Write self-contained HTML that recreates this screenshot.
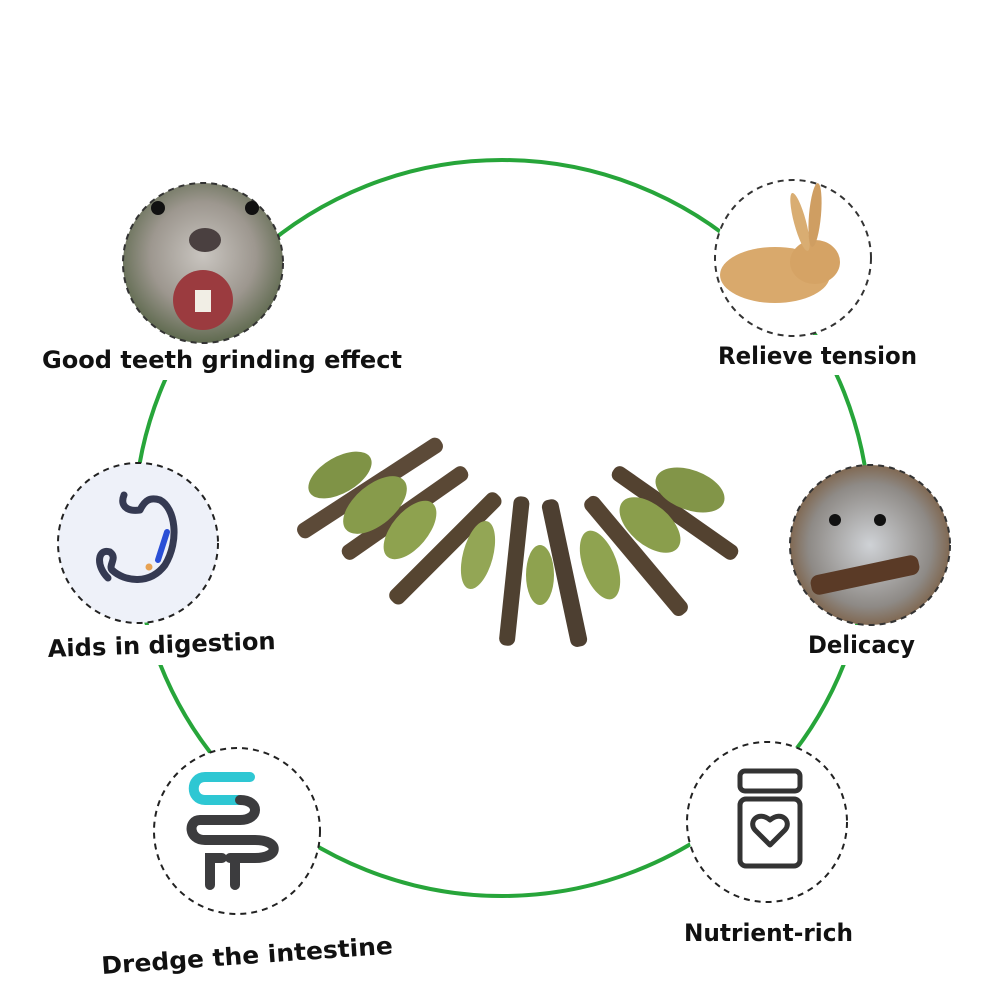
<!DOCTYPE html>
<html><head><meta charset="utf-8"><style>
html,body{margin:0;padding:0;background:#fff;}
svg{display:block}
text{font-family:"DejaVu Sans","Liberation Sans",sans-serif;font-weight:bold;fill:#111;}
</style></head><body>
<svg width="1000" height="1000" viewBox="0 0 1000 1000" xmlns="http://www.w3.org/2000/svg">
<defs>
<radialGradient id="g1" cx="50%" cy="45%" r="55%"><stop offset="0" stop-color="#c9c5c0"/><stop offset="0.6" stop-color="#9d978f"/><stop offset="1" stop-color="#5f6a4f"/></radialGradient>
<radialGradient id="g2" cx="50%" cy="50%" r="55%"><stop offset="0" stop-color="#cfd2d6"/><stop offset="0.7" stop-color="#8e8a86"/><stop offset="1" stop-color="#7a5a3c"/></radialGradient>
</defs>
<circle cx="502" cy="528" r="368" fill="none" stroke="#27a53a" stroke-width="4"/>
<rect x="30" y="340" width="390" height="40" fill="#fff"/>
<rect x="700" y="335" width="240" height="40" fill="#fff"/>
<rect x="30" y="625" width="270" height="40" fill="#fff"/>
<rect x="780" y="625" width="150" height="40" fill="#fff"/>

<circle cx="203" cy="263" r="80" fill="url(#g1)" stroke="#333" stroke-width="2" stroke-dasharray="6 5"/>
<ellipse cx="203" cy="300" rx="30" ry="30" fill="#9b3b3f"/>
<rect x="195" y="290" width="16" height="22" fill="#f1eee5"/>
<ellipse cx="205" cy="240" rx="16" ry="12" fill="#4a4040"/>
<circle cx="158" cy="208" r="7" fill="#111"/><circle cx="252" cy="208" r="7" fill="#111"/>

<circle cx="793" cy="258" r="78" fill="#fff" stroke="#333" stroke-width="2" stroke-dasharray="6 5"/>
<ellipse cx="775" cy="275" rx="55" ry="28" fill="#d9a96c"/>
<ellipse cx="815" cy="262" rx="25" ry="22" fill="#d5a365"/>
<ellipse cx="800" cy="222" rx="6" ry="30" fill="#d9ad72" transform="rotate(-15 800 222)"/>
<ellipse cx="815" cy="215" rx="6" ry="32" fill="#cf9e62" transform="rotate(5 815 215)"/>

<circle cx="138" cy="543" r="80" fill="#eef1f9" stroke="#222" stroke-width="2" stroke-dasharray="6 5"/>
<path d="M124 495 C120 505,126 512,140 510 C145 500,150 497,160 500 C175 508,180 540,165 565 C150 585,125 582,112 570 C108 565,118 558,110 552 C98 548,95 565,108 578" fill="none" stroke="#353a52" stroke-width="7" stroke-linecap="round" stroke-linejoin="round"/>
<path d="M167 532 L158 560" stroke="#2a4fd6" stroke-width="6" stroke-linecap="round"/>
<circle cx="149" cy="567" r="3.5" fill="#e7a253"/>

<circle cx="870" cy="545" r="80" fill="url(#g2)" stroke="#333" stroke-width="2" stroke-dasharray="6 5"/>
<rect x="810" y="565" width="110" height="20" rx="8" fill="#5a3a26" transform="rotate(-12 865 575)"/>
<circle cx="835" cy="520" r="6" fill="#111"/><circle cx="880" cy="520" r="6" fill="#111"/>

<circle cx="237" cy="831" r="83" fill="#fff" stroke="#222" stroke-width="2" stroke-dasharray="6 5"/>
<path d="M250 777 H205 C190 777,190 800,205 800 H240" fill="none" stroke="#2ec7d3" stroke-width="10" stroke-linecap="round"/>
<path d="M240 800 C260 800,260 820,240 820 H200 C188 820,188 840,205 840 H255 C280 840,280 858,255 858 H230 M235 858 V885 M222 858 H210 V885" fill="none" stroke="#3c3c3e" stroke-width="10" stroke-linecap="round"/>

<circle cx="767" cy="822" r="80" fill="#fff" stroke="#222" stroke-width="2" stroke-dasharray="6 5"/>
<rect x="740" y="771" width="60" height="20" rx="5" fill="none" stroke="#333" stroke-width="5"/>
<rect x="740" y="799" width="60" height="67" rx="6" fill="none" stroke="#333" stroke-width="5"/>
<path d="M770 845 L755 830 C748 822,758 810,770 820 C782 810,792 822,785 830 Z" fill="none" stroke="#333" stroke-width="5" stroke-linejoin="round"/>

<g>
<rect x="285" y="480" width="170" height="16" rx="7" fill="#5c4a38" transform="rotate(-33 370 488)"/>
<rect x="330" y="505" width="150" height="16" rx="7" fill="#5a4835" transform="rotate(-35 405 513)"/>
<rect x="370" y="540" width="150" height="17" rx="7" fill="#564531" transform="rotate(-45 445 548)"/>
<rect x="450" y="575" width="150" height="16" rx="7" fill="#4f4131" transform="rotate(-84 513 583)"/>
<rect x="490" y="565" width="150" height="17" rx="7" fill="#4d3f31" transform="rotate(78 565 573)"/>
<rect x="565" y="540" width="150" height="17" rx="7" fill="#554432" transform="rotate(50 630 548)"/>
<rect x="600" y="505" width="150" height="16" rx="7" fill="#534230" transform="rotate(35 675 513)"/>
<ellipse cx="340" cy="475" rx="35" ry="18" fill="#7f9346" transform="rotate(-30 340 475)"/>
<ellipse cx="375" cy="505" rx="38" ry="20" fill="#879b4b" transform="rotate(-40 375 505)"/>
<ellipse cx="410" cy="530" rx="35" ry="18" fill="#8ea24f" transform="rotate(-50 410 530)"/>
<ellipse cx="478" cy="555" rx="15" ry="35" fill="#93a655" transform="rotate(15 478 555)"/>
<ellipse cx="540" cy="575" rx="14" ry="30" fill="#8ea24f"/>
<ellipse cx="600" cy="565" rx="17" ry="36" fill="#8fa350" transform="rotate(-20 600 565)"/>
<ellipse cx="650" cy="525" rx="36" ry="20" fill="#8a9e4c" transform="rotate(40 650 525)"/>
<ellipse cx="690" cy="490" rx="36" ry="20" fill="#829548" transform="rotate(20 690 490)"/>
</g>

<text x="42" y="368" font-size="24" textLength="360" lengthAdjust="spacingAndGlyphs">Good teeth grinding effect</text>
<text x="718" y="364" font-size="24" textLength="199" lengthAdjust="spacingAndGlyphs">Relieve tension</text>
<text x="48" y="657" font-size="24" textLength="228" lengthAdjust="spacingAndGlyphs" transform="rotate(-2 48 657)">Aids in digestion</text>
<text x="808" y="653" font-size="24" textLength="107" lengthAdjust="spacingAndGlyphs">Delicacy</text>
<text x="102" y="974" font-size="24" textLength="292" lengthAdjust="spacingAndGlyphs" transform="rotate(-4 102 974)">Dredge the intestine</text>
<text x="684" y="941" font-size="24" textLength="169" lengthAdjust="spacingAndGlyphs">Nutrient-rich</text>
</svg>
</body></html>
